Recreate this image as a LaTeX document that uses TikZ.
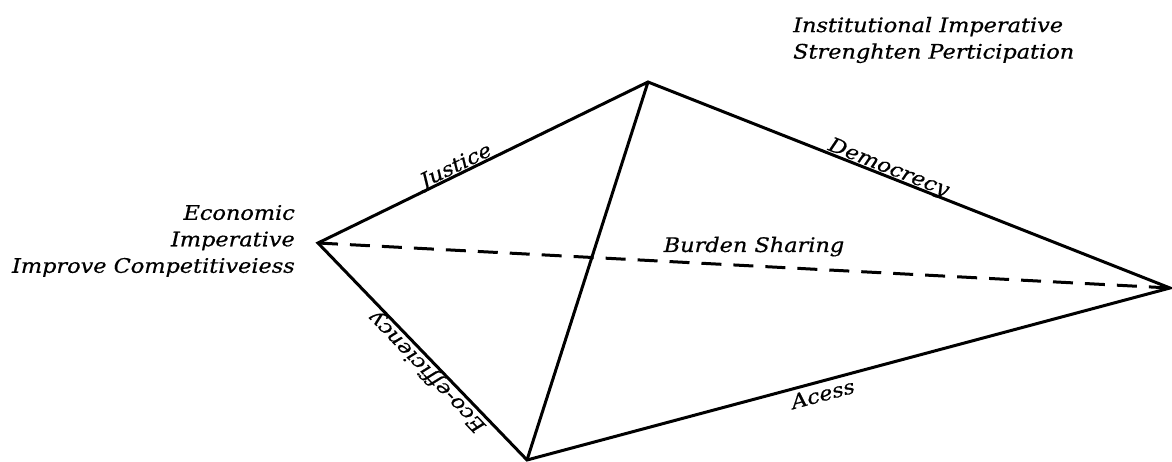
\documentclass[tikz,border=0pt]{standalone}
\usepackage{fontspec}
\setmainfont{DejaVu Serif}[FakeStretch=1.12, FakeBold=0.6]
\begin{document}
\begin{tikzpicture}[x=1pt,y=1pt,
  edge/.style={line width=3pt, line join=miter},
  lab/.style={font=\fontsize{20}{26.5}\selectfont\itshape, inner sep=2pt},
  slab/.style={lab, sloped, text depth=0pt, inner xsep=0pt, inner ysep=2.5pt}]
\useasboundingbox (0,0) rectangle (1172,461);
\coordinate (L) at (318,218);
\coordinate (T) at (648,379);
\coordinate (R) at (1170,173);
\coordinate (B) at (527,1);
\draw[edge] (L) -- (T) -- (R) -- (B) -- cycle;
\draw[edge] (T) -- (B);
\draw[edge, dash pattern=on 20pt off 12pt] (L) -- (R);
\path (L) -- node[slab, above, pos=0.43] (just) {Justice} (T);
\path (T) -- node[slab, above, pos=0.455] (demo) {Democrecy} (R);
\path (B) -- node[slab, allow upside down, above, inner ysep=5pt, pos=0.44] (ecoe) {Eco-efficiency} (L);
\path (B) -- node[slab, below, inner ysep=5pt, pos=0.455] (acc) {Acess} (R);
\node[lab, anchor=base] (burd) at (754,209) {Burden Sharing};
\node[lab, align=right, anchor=east] (econ) at (297,220) {Economic\\Imperative\\Improve Competitiveiess};
\node[lab, align=left, anchor=west] (inst) at (791,421) {Institutional Imperative\\Strenghten Perticipation};
\end{tikzpicture}
\end{document}
